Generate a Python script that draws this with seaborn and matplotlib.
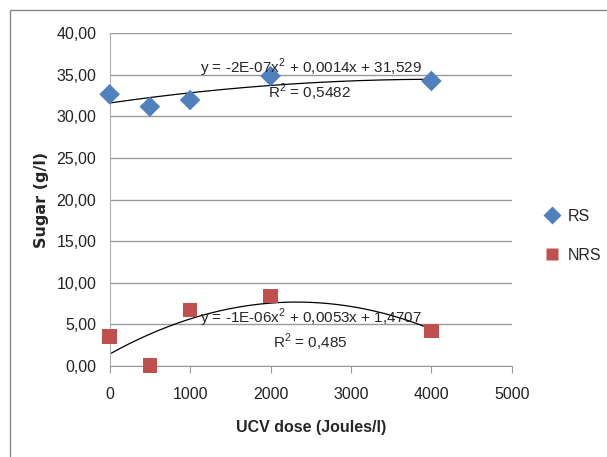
import matplotlib
matplotlib.use("Agg")
import matplotlib.pyplot as plt
import numpy as np
import pandas as pd
import seaborn as sns
from matplotlib.patches import Rectangle

# data
dose = [0, 500, 1000, 2000, 4000]
rs = [32.66, 31.17, 31.97, 34.86, 34.26]
nrs = [3.49, 0.0, 6.70, 8.39, 4.18]
series_names = ["RS", "NRS"]
rs_eq = "y = -2E-07x$^2$ + 0,0014x + 31,529"
rs_r2 = "R$^2$ = 0,5482"
nrs_eq = "y = -1E-06x$^2$ + 0,0053x + 1,4707"
nrs_r2 = "R$^2$ = 0,485"

sns.set_style("white")
plt.rcParams["font.family"] = ["Liberation Sans", "DejaVu Sans"]
plt.rcParams["mathtext.fontset"] = "custom"
plt.rcParams["mathtext.rm"] = "Liberation Sans"

df = pd.DataFrame({"dose": dose * 2,
                   "sugar": rs + nrs,
                   "series": [series_names[0]] * 5 + [series_names[1]] * 5})

fig = plt.figure(figsize=(6.07, 4.57), dpi=100)
fig.patches.append(Rectangle((10 / 607, -0.1), 1.1, 1 - 10 / 457 + 0.1,
                             transform=fig.transFigure, fill=False,
                             edgecolor="#888888", linewidth=1.0))
ax = fig.add_axes([0.1806, 0.1998, 0.6626, 0.7273])

colors = {"RS": "#4F81BD", "NRS": "#C0504D"}
markers = {"RS": "D", "NRS": "s"}
sns.scatterplot(data=df, x="dose", y="sugar", hue="series", style="series",
                palette=colors, markers=markers, s=110, edgecolor="none",
                ax=ax, clip_on=False, zorder=3)

# second order trendlines
xs = np.linspace(0, 4000, 200)
for vals in (rs, nrs):
    coef = np.polyfit(dose, vals, 2)
    sns.lineplot(x=xs, y=np.polyval(coef, xs), color="black", linewidth=0.9,
                 ax=ax, legend=False, zorder=2)

ax.set_xlim(0, 5000)
ax.set_ylim(0, 40)
ax.set_xticks(range(0, 5001, 1000))
ax.set_yticks(range(0, 41, 5))
ax.set_yticklabels([f"{v},00" for v in range(0, 41, 5)])
ax.grid(axis="y", color="#9a9a9a", linewidth=1.0)
ax.set_axisbelow(True)
for side in ["top", "right"]:
    ax.spines[side].set_visible(False)
ax.spines["left"].set_color("#b0b0b0")
ax.spines["bottom"].set_color("#9a9a9a")
ax.tick_params(axis="x", bottom=True, length=5, color="#9a9a9a", labelsize=11.5, pad=10,
               labelcolor="#222222")
ax.tick_params(axis="y", left=False, labelsize=11.5, pad=6, labelcolor="#222222")

ax.set_xlabel("UCV dose (Joules/l)", fontsize=11.5, fontweight="bold", labelpad=13)
ax.set_ylabel("Sugar (g/l)", fontsize=11.5, fontweight="bold", family="DejaVu Sans", labelpad=5)

ax.text(2500, 35.9, rs_eq, ha="center", va="center", fontsize=11)
ax.text(2480, 32.9, rs_r2, ha="center", va="center", fontsize=11)
ax.text(2500, 5.8, nrs_eq, ha="center", va="center", fontsize=11)
ax.text(2490, 2.8, nrs_r2, ha="center", va="center", fontsize=11)

ax.legend(loc="center left", bbox_to_anchor=(1.025, 0.39), frameon=False,
          fontsize=11.5, labelspacing=1.5, handletextpad=0.0, markerscale=0.85)

fig.savefig("out.png", dpi=100)
